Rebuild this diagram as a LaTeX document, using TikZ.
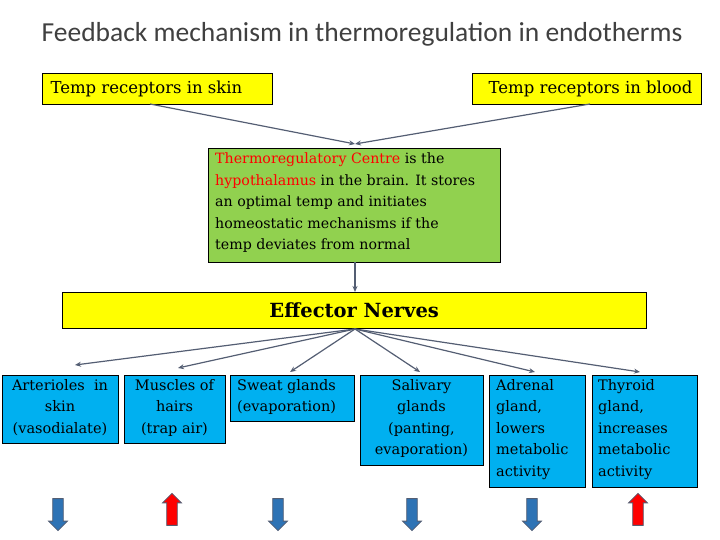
\documentclass[tikz,border=0pt]{standalone}
\usepackage{fontspec}
\setmainfont{DejaVu Serif}
\newfontfamily\titlefont{Carlito}
\usetikzlibrary{shapes.arrows,arrows.meta}
\definecolor{boxyellow}{rgb}{1.0,1.0,0.0}
\definecolor{boxgreen}{rgb}{0.57,0.82,0.31}
\definecolor{boxblue}{rgb}{0.0,0.69,0.94}
\definecolor{linegray}{rgb}{0.33,0.37,0.45}
\definecolor{downblue}{rgb}{0.18,0.45,0.71}
\definecolor{titlegray}{rgb}{0.25,0.25,0.25}
\tikzset{
  topbox/.style={draw=black,fill=boxyellow,anchor=north west,inner sep=0pt},
  effbox/.style={draw=black,fill=boxblue,anchor=north west,inner sep=0pt},
  efftext/.style={inner sep=0pt,font=\fontsize{14.5}{21.5}\selectfont},
  link/.style={draw=linegray,line width=1.2pt,-{Stealth[length=6pt,width=5pt]}},
  updown/.style={single arrow,draw=linegray,line width=0.8pt,minimum height=32pt,minimum width=19pt,single arrow head extend=3.5pt,single arrow tip angle=90,inner sep=4pt}
}
\begin{document}
\begin{tikzpicture}[x=1pt,y=1pt]
\useasboundingbox (0,0) rectangle (720,540);
% title
\node[font=\titlefont\fontsize{27.5}{30}\selectfont,text=titlegray] (title) at (362,506) {Feedback mechanism in thermoregulation in endotherms};
% receptors
\node[topbox,minimum width=230pt,minimum height=31pt] (skin) at (42,467) {};
\node[anchor=west,font=\fontsize{16.5}{20}\selectfont] at (47,451.5) {Temp receptors in skin};
\node[topbox,minimum width=229pt,minimum height=31pt] (blood) at (472,467) {};
\node[anchor=east,font=\fontsize{16.5}{20}\selectfont] at (696,451.5) {Temp receptors in blood};
% centre
\node[draw=black,fill=boxgreen,anchor=north west,minimum width=292pt,minimum height=114pt,inner sep=0pt] (centre) at (208,392) {};
\node[anchor=north west,align=left,inner sep=0pt,font=\fontsize{14.2}{21.5}\selectfont] at (215,387)
  {\textcolor{red}{Thermoregulatory Centre} is the\\
   \textcolor{red}{hypothalamus} in the brain. It stores\\
   an optimal temp and initiates\\
   homeostatic mechanisms if the\\
   temp deviates from normal};
% effector nerves
\node[draw=black,fill=boxyellow,anchor=north west,minimum width=584pt,minimum height=36pt,inner sep=0pt,font=\bfseries\fontsize{19.5}{22}\selectfont] (nerves) at (62,248) {Effector Nerves};
% effectors
\node[effbox,minimum width=116pt,minimum height=68pt] (arter) at (2,165) {};
\node[efftext,anchor=north,align=center] at (60,161) {Arterioles~ in\\skin\\(vasodialate)};
\node[effbox,minimum width=101pt,minimum height=68pt] (muscle) at (124,165) {};
\node[efftext,anchor=north,align=center] at (174.5,161) {Muscles of\\hairs\\(trap air)};
\node[effbox,minimum width=124pt,minimum height=46pt] (sweat) at (230,165) {};
\node[efftext,anchor=north west,align=left] at (237,161) {Sweat glands\\(evaporation)};
\node[effbox,minimum width=123pt,minimum height=90pt] (saliv) at (360,165) {};
\node[efftext,anchor=north,align=center] at (421.5,161) {Salivary\\glands\\(panting,\\evaporation)};
\node[effbox,minimum width=96pt,minimum height=112pt] (adren) at (489,165) {};
\node[efftext,anchor=north west,align=left] at (496,161) {Adrenal\\gland,\\lowers\\metabolic\\activity};
\node[effbox,minimum width=105pt,minimum height=112pt] (thyro) at (592,165) {};
\node[efftext,anchor=north west,align=left] at (598,161) {Thyroid\\gland,\\increases\\metabolic\\activity};
% connectors
\coordinate (hub) at (355,396);
\draw[link] (150,436) -- (hub);
\draw[link] (590,436) -- (hub);
\draw[link] (355,278) -- (355,248);
\coordinate (fan) at (355,211);
\foreach \tx/\ty in {75/175,178/172,290/168,420/168,535/168,640/168}
  \draw[link] (fan) -- (\tx,\ty);
% direction arrows
\foreach \ax/\col/\dir in {58/downblue/270,172/red/90,278/downblue/270,412/downblue/270,532/downblue/270,638/red/90}
  \node[updown,fill=\col,shape border rotate=\dir] at (\ax,28) {};
\end{tikzpicture}
\end{document}
